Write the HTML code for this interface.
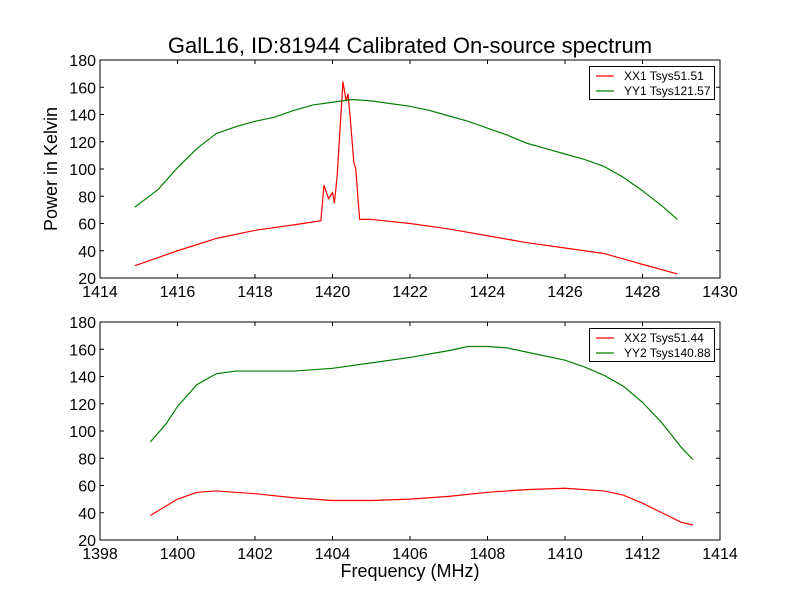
<!DOCTYPE html>
<html><head><meta charset="utf-8"><style>
body{margin:0;background:#fff;}
svg text{font-family:"Liberation Sans","DejaVu Sans",sans-serif;}
</style></head><body>
<svg id="chart" width="800" height="600" xmlns="http://www.w3.org/2000/svg"></svg>
<script>
const topXX1Freq=[1414.9,1416,1417,1418,1419,1419.7,1419.78,1419.9,1420.0,1420.05,1420.12,1420.27,1420.35,1420.4,1420.45,1420.55,1420.6,1420.7,1421,1422,1423,1424,1425,1426,1427,1428,1428.9];
const topXX1Vals=[29,40,49,55,59,62,88,78,83,75,95,164,150,155,140,105,100,63,63,60,56,51,46,42,38,30,23];
const topYY1Freq=[1414.9,1415.5,1416,1416.5,1417,1417.5,1418,1418.5,1419,1419.5,1420,1420.5,1421,1421.5,1422,1422.5,1423,1423.5,1424,1424.5,1425,1425.5,1426,1426.5,1427,1427.5,1428,1428.5,1428.9];
const topYY1Vals=[72,85,101,115,126,131,135,138,143,147,149,151,150,148,146,143,139,135,130,125,119,115,111,107,102,94,84,73,63];
const botXX2Freq=[1399.3,1400,1400.5,1401,1402,1403,1404,1405,1406,1407,1408,1409,1410,1411,1411.5,1412,1412.5,1413,1413.3];
const botXX2Vals=[38,50,55,56,54,51,49,49,50,52,55,57,58,56,53,47,40,33,31];
const botYY2Freq=[1399.3,1399.7,1400,1400.5,1401,1401.5,1402,1403,1404,1405,1406,1407,1407.5,1408,1408.5,1409,1410,1410.5,1411,1411.5,1412,1412.5,1413,1413.3];
const botYY2Vals=[92,105,118,134,142,144,144,144,146,150,154,159,162,162,161,158,152,147,141,133,121,106,88,79];
const topXTicks=[1414,1416,1418,1420,1422,1424,1426,1428,1430];
const botXTicks=[1398,1400,1402,1404,1406,1408,1410,1412,1414];
const yTicks=[20,40,60,80,100,120,140,160,180];

const NS="http://www.w3.org/2000/svg";
const svg=document.getElementById('chart');
function mk(tag,attrs,parent){const e=document.createElementNS(NS,tag);for(const k in attrs)e.setAttribute(k,attrs[k]);(parent||svg).appendChild(e);return e;}

function panel(name,top,xTicks,series,legend){
  const L=100,R=720,T=top,B=top+218;
  const x0=xTicks[0],x1=xTicks[xTicks.length-1];
  const sx=v=>L+(v-x0)/(x1-x0)*(R-L);
  const sy=v=>B-(v-20)/160*(B-T);
  const g=mk('g',{});
  
  
  series.forEach(s=>{
    const d=s.f.map((f,i)=>(i?'L':'M')+sx(f).toFixed(2)+','+sy(s.v[i]).toFixed(2)).join('');
    const p=mk('path',{d:d,fill:'none',stroke:s.c,'stroke-width':1.2,'stroke-linejoin':'round'},g);
    
    
  });
  mk('rect',{x:L,y:T,width:R-L,height:B-T,fill:'none',stroke:'#000','stroke-width':1},g);
  xTicks.forEach(t=>{
    const x=sx(t);
    mk('line',{x1:x,x2:x,y1:B,y2:B-4,stroke:'#000'},g);
    mk('line',{x1:x,x2:x,y1:T,y2:T+4,stroke:'#000'},g);
    const tx=mk('text',{x:x,y:B+19,'font-size':16,'text-anchor':'middle'},g);tx.textContent=t;
    
    
  });
  yTicks.forEach(t=>{
    const y=sy(t);
    mk('line',{x1:L,x2:L+4,y1:y,y2:y,stroke:'#000'},g);
    mk('line',{x1:R,x2:R-4,y1:y,y2:y,stroke:'#000'},g);
    const tx=mk('text',{x:L-4,y:y+6,'font-size':16,'text-anchor':'end'},g);tx.textContent=t;
    
    
  });
  const lg=mk('g',{},g);
  
  
  mk('rect',{x:589.5,y:T+6.5,width:125,height:33,fill:'#fff',stroke:'#000','stroke-width':1},lg);
  legend.forEach((l,i)=>{
    const y=T+16+i*15;
    mk('line',{x1:596,x2:614,y1:y,y2:y,stroke:l.c,'stroke-width':1.2},lg);
    const tx=mk('text',{x:624,y:y+4,'font-size':12},lg);tx.textContent=l.t;
    
    
  });
}
panel('top',60,topXTicks,[
  {name:'xx1-line',f:topXX1Freq,v:topXX1Vals,c:'#ff0000'},
  {name:'yy1-line',f:topYY1Freq,v:topYY1Vals,c:'#008000'}],
  [{t:'XX1 Tsys51.51',c:'#ff0000'},{t:'YY1 Tsys121.57',c:'#008000'}]);
panel('bottom',322,botXTicks,[
  {name:'xx2-line',f:botXX2Freq,v:botXX2Vals,c:'#ff0000'},
  {name:'yy2-line',f:botYY2Freq,v:botYY2Vals,c:'#008000'}],
  [{t:'XX2 Tsys51.44',c:'#ff0000'},{t:'YY2 Tsys140.88',c:'#008000'}]);

const title=mk('text',{x:410,y:53,'font-size':22,'text-anchor':'middle'});
title.textContent='GalL16, ID:81944 Calibrated On-source spectrum';


const yl=mk('text',{x:0,y:0,'font-size':18,'text-anchor':'middle',transform:'translate(57,169) rotate(-90)'});
yl.textContent='Power in Kelvin';


const xl=mk('text',{x:410,y:577,'font-size':18,'text-anchor':'middle'});
xl.textContent='Frequency (MHz)';


</script>
</body></html>
